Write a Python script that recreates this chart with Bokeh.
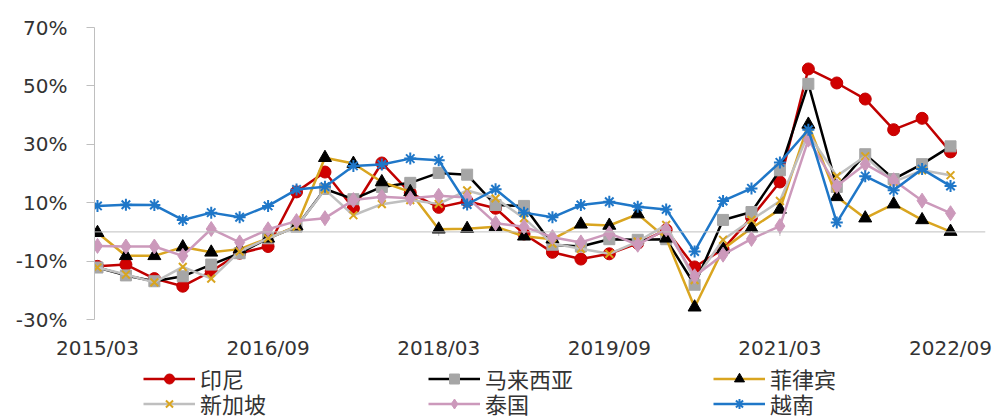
from bokeh.plotting import figure
from bokeh.layouts import column
from bokeh.models import (Range1d, FixedTicker, PrintfTickFormatter, Legend,
                          LegendItem, LinearAxis, Span)
from bokeh.embed import file_html
from bokeh.resources import INLINE

# Quarterly year-on-year growth (%), 2015Q1 - 2022Q3
quarters = [
    "2015/03", "2015/06", "2015/09", "2015/12",
    "2016/03", "2016/06", "2016/09", "2016/12",
    "2017/03", "2017/06", "2017/09", "2017/12",
    "2018/03", "2018/06", "2018/09", "2018/12",
    "2019/03", "2019/06", "2019/09", "2019/12",
    "2020/03", "2020/06", "2020/09", "2020/12",
    "2021/03", "2021/06", "2021/09", "2021/12",
    "2022/03", "2022/06", "2022/09",
]
tick_labels = ["2015/03", "2016/09", "2018/03", "2019/09", "2021/03", "2022/09"]
y_ticks = [-30, -10, 10, 30, 50, 70]

indonesia = [-11.8, -11.2, -16.0, -18.6, -13.5, -7.3, -5.0, 13.7, 20.5, 8.1,
             23.6, 13.4, 8.4, 10.5, 8.1, -0.7, -7.0, -9.3, -7.5, -3.9,
             0.7, -12.0, -5.9, 5.0, 17.1, 55.8, 51.0, 45.5, 35.0, 38.9, 27.4]
malaysia = [-12.2, -14.9, -16.9, -15.2, -11.2, -7.3, -2.2, 1.8, 14.7, 11.2,
            15.4, 16.8, 20.2, 19.6, 9.2, 8.9, -4.4, -5.0, -2.5, -2.7,
            -2.5, -18.1, 4.1, 6.8, 21.1, 50.7, 15.4, 26.6, 18.1, 23.2, 29.3]
philippines = [-0.3, -8.2, -8.2, -5.2, -7.0, -5.9, -2.2, 2.0, 25.4, 23.4,
               17.1, 13.7, 0.9, 1.1, 1.8, -1.5, -2.5, 2.6, 2.2, 6.1,
               -2.2, -25.8, -5.9, 1.3, 7.7, 36.8, 12.0, 4.7, 9.5, 4.1, 0.1]
singapore = [-12.2, -14.6, -17.3, -12.0, -16.0, -6.7, -2.2, 1.8, 14.5, 5.7,
             9.5, 10.9, 9.6, 14.2, 11.5, 4.7, -4.0, -5.8, -7.5, -3.3,
             2.4, -16.5, -2.7, 4.1, 10.6, 33.6, 19.1, 25.9, 17.1, 21.1, 19.4]
thailand = [-4.8, -5.0, -5.0, -8.2, 1.0, -3.6, 0.9, 3.7, 4.7, 10.9,
            12.0, 11.5, 12.4, 11.8, 3.0, 1.8, -1.8, -3.6, -0.5, -4.4,
            0.9, -15.2, -7.8, -2.4, 2.0, 31.6, 15.7, 23.2, 17.7, 10.7, 6.4]
vietnam = [8.9, 9.3, 9.2, 4.1, 6.6, 5.0, 8.9, 14.5, 15.5, 22.6,
           23.1, 25.1, 24.5, 9.4, 14.6, 6.6, 5.0, 9.2, 10.3, 8.6,
           7.7, -6.7, 10.6, 14.9, 23.8, 35.0, 3.2, 19.1, 14.3, 21.5, 15.7]

x = list(range(len(quarters)))
tick_pos = [quarters.index(t) for t in tick_labels]

AXIS_GREY = "#BFBFBF"
TEXT = "#333333"

p = figure(width=998, height=362,
           x_range=Range1d(-0.105, 31.23), y_range=Range1d(-30, 70),
           x_axis_type=None, y_axis_type=None,
           min_border_left=94, min_border_right=13,
           min_border_top=27, min_border_bottom=42,
           output_backend="svg", toolbar_location=None)
p.outline_line_color = None
p.grid.visible = False
p.background_fill_color = "white"
p.border_fill_color = "white"

# value axis
yaxis = LinearAxis(ticker=FixedTicker(ticks=y_ticks),
                   formatter=PrintfTickFormatter(format="%d%%"))
yaxis.axis_line_color = AXIS_GREY
yaxis.major_tick_line_color = AXIS_GREY
yaxis.major_tick_out = 8
yaxis.major_tick_in = 0
yaxis.minor_tick_line_color = None
yaxis.major_label_standoff = 19
yaxis.major_label_text_font = "DejaVu Sans"
yaxis.major_label_text_font_size = "20px"
yaxis.major_label_text_color = TEXT
p.add_layout(yaxis, "left")

# category labels along the bottom
xaxis = LinearAxis(ticker=FixedTicker(ticks=tick_pos),
                   major_label_overrides={i: t for i, t in zip(tick_pos, tick_labels)})
xaxis.axis_line_color = None
xaxis.major_tick_line_color = None
xaxis.major_tick_out = 0
xaxis.major_tick_in = 0
xaxis.minor_tick_line_color = None
xaxis.minor_tick_out = 0
xaxis.minor_tick_in = 0
xaxis.major_label_standoff = 16
xaxis.major_label_text_font = "DejaVu Sans"
xaxis.major_label_text_font_size = "20px"
xaxis.major_label_text_color = TEXT
p.add_layout(xaxis, "below")

# zero line with its small tick marks
p.add_layout(Span(location=0, dimension="width", line_color=AXIS_GREY, line_width=1))
p.segment(x0=tick_pos, y0=[0] * len(tick_pos), x1=tick_pos, y1=[-1.4] * len(tick_pos),
          line_color=AXIS_GREY, line_width=1)

series = [
    ("印尼", indonesia, "#C00000", dict(marker="circle", size=12, fill_color="#D00000", line_color="#C00000")),
    ("马来西亚", malaysia, "#000000", dict(marker="square", size=11, fill_color="#A6A6A6", line_color="#A6A6A6")),
    ("菲律宾", philippines, "#D9A520", dict(marker="triangle", size=13, fill_color="#000000", line_color="#000000")),
    ("新加坡", singapore, "#BFBFBF", dict(marker="x", size=11, line_color="#D9A520", line_width=2)),
    ("泰国", thailand, "#CC99BB", dict(marker="diamond", size=15, fill_color="#CC99BB", line_color="#CC99BB")),
    ("越南", vietnam, "#1F77C8", dict(marker="asterisk", size=12, line_color="#1F77C8", line_width=2)),
]

# legend strip underneath the chart; its series sit outside its visible range,
# so only the legend keys are drawn
leg = figure(width=998, height=57, x_range=Range1d(-10, -9), y_range=Range1d(0, 1),
             x_axis_type=None, y_axis_type=None,
             min_border_left=0, min_border_right=0, min_border_top=0, min_border_bottom=0,
             output_backend="svg", toolbar_location=None)
leg.outline_line_color = None
leg.grid.visible = False

items = []
for name, vals, lc, mk in series:
    p.line(x, vals, line_color=lc, line_width=2.5)
    p.scatter(x, vals, **mk)
    kl = leg.line(x, vals, line_color=lc, line_width=2.5)
    km = leg.scatter(x, vals, **mk)
    items.append(LegendItem(label=name, renderers=[kl, km]))

# the strip's frame lines up with the chart's frame (left edge at x=94)
for (lo, hi), vy in (((0, 3), 25), ((3, 6), 0)):
    lg = Legend(items=items[lo:hi], location=(49, vy), orientation="horizontal",
                glyph_width=52, glyph_height=25, label_height=25, label_width=223,
                label_standoff=5, spacing=5, padding=0, margin=0,
                border_line_color=None, background_fill_alpha=0,
                label_text_font="Noto Sans CJK SC", label_text_font_size="22px",
                label_text_color=TEXT)
    leg.add_layout(lg, "center")

layout = column(p, leg, spacing=0)
open("out.html", "w").write(file_html(layout, INLINE))
